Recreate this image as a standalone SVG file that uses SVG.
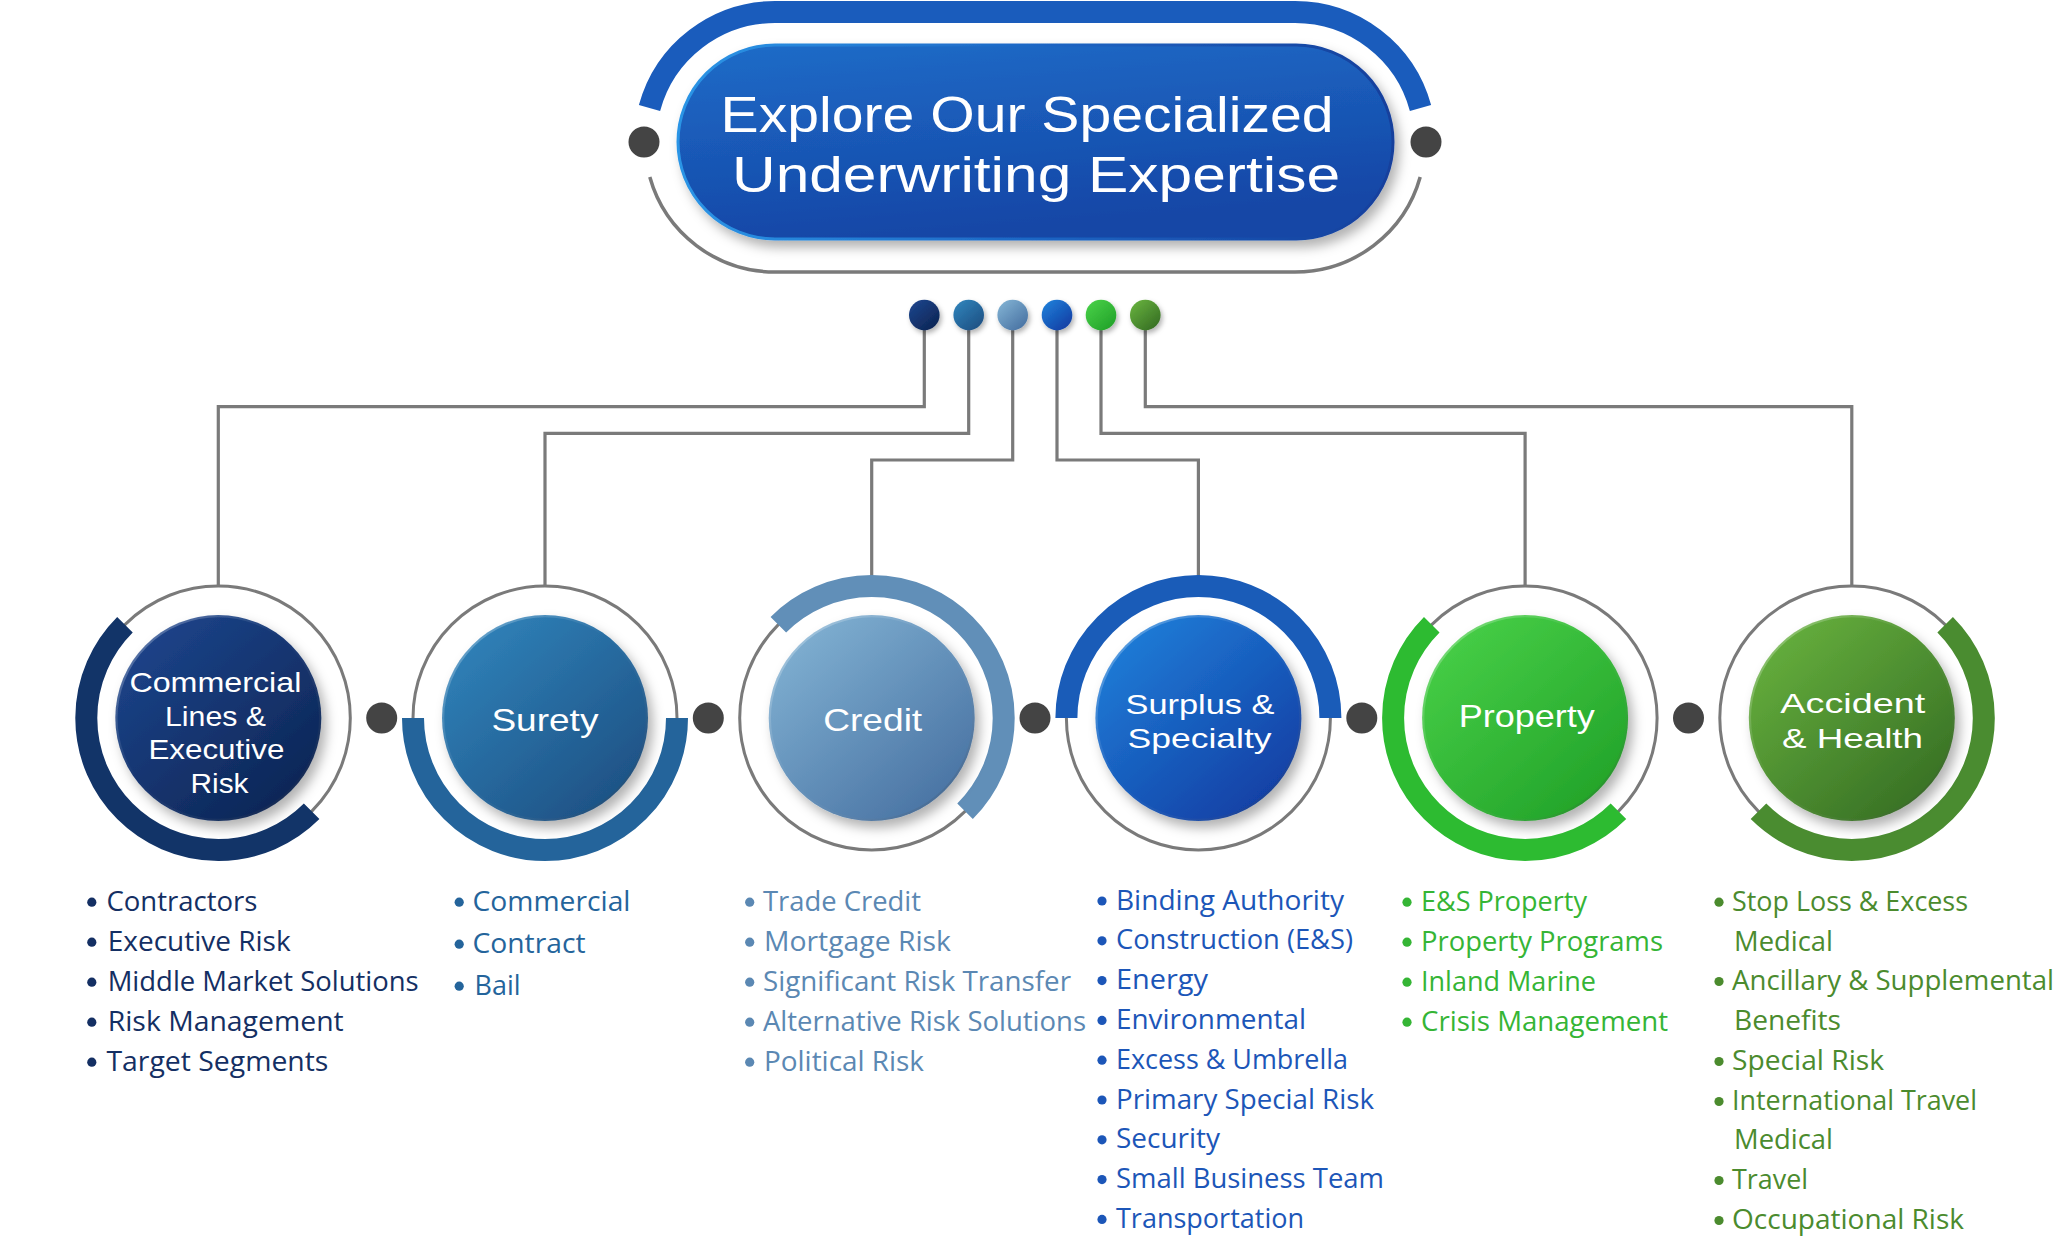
<svg xmlns="http://www.w3.org/2000/svg" width="2070" height="1248" viewBox="0 0 2070 1248">
<defs>
<style>
.lbl{font-family:"Liberation Sans","Open Sans",sans-serif;fill:#fff;font-weight:400}
.li{font-family:"Open Sans","Noto Sans","Liberation Sans",sans-serif;font-size:27px;font-weight:400}
.ring{fill:none;stroke:#7a7a7a;stroke-width:3}
.band{fill:none;stroke-width:22}
.conn{fill:none;stroke:#7a7a7a;stroke-width:3.2}
.sep{fill:#444}
.c1{fill:#142f63}.c2{fill:#24649b}.c3{fill:#5b88b3}.c4{fill:#1c56b8}.c5{fill:#35b535}.c6{fill:#4b8b2e}
</style>
<filter id="sh" x="-30%" y="-30%" width="160%" height="160%"><feDropShadow dx="5" dy="7" stdDeviation="6" flood-color="#000" flood-opacity="0.3"/></filter>
<filter id="shs" x="-50%" y="-50%" width="200%" height="200%"><feDropShadow dx="2" dy="3" stdDeviation="2.5" flood-color="#000" flood-opacity="0.3"/></filter>
<linearGradient id="gH" x1="0" y1="0" x2="0.3" y2="1"><stop offset="0" stop-color="#1e6cc8"/><stop offset="1" stop-color="#1546a6"/></linearGradient>
<linearGradient id="gHs" x1="0" y1="0" x2="1" y2="0"><stop offset="0" stop-color="#2b95e6"/><stop offset="0.5" stop-color="#1d66c4"/><stop offset="1" stop-color="#163f9c"/></linearGradient>
<linearGradient id="g1" x1="0.15" y1="0.1" x2="0.85" y2="0.9"><stop offset="0" stop-color="#1c4389"/><stop offset="1" stop-color="#0d2656"/></linearGradient>
<linearGradient id="g2" x1="0.15" y1="0.1" x2="0.85" y2="0.9"><stop offset="0" stop-color="#2f80b7"/><stop offset="1" stop-color="#1e5285"/></linearGradient>
<linearGradient id="g3" x1="0.15" y1="0.1" x2="0.85" y2="0.9"><stop offset="0" stop-color="#7eaed0"/><stop offset="1" stop-color="#4a74a4"/></linearGradient>
<linearGradient id="g4" x1="0.15" y1="0.1" x2="0.85" y2="0.9"><stop offset="0" stop-color="#1f7bd6"/><stop offset="1" stop-color="#1140a5"/></linearGradient>
<linearGradient id="g5" x1="0.15" y1="0.1" x2="0.85" y2="0.9"><stop offset="0" stop-color="#46cd46"/><stop offset="1" stop-color="#23a42a"/></linearGradient>
<linearGradient id="g6" x1="0.15" y1="0.1" x2="0.85" y2="0.9"><stop offset="0" stop-color="#64ad3c"/><stop offset="1" stop-color="#387125"/></linearGradient>
<linearGradient id="rim" x1="0" y1="0" x2="1" y2="1"><stop offset="0" stop-color="#fff" stop-opacity="0.35"/><stop offset="0.45" stop-color="#fff" stop-opacity="0"/><stop offset="1" stop-color="#000" stop-opacity="0.2"/></linearGradient>
</defs>
<rect width="2070" height="1248" fill="#fff"/>

<g id="header">
<path d="M 649.5 108 A 130 130 0 0 1 775 12 L 1295 12 A 130 130 0 0 1 1420.5 108" fill="none" stroke="#1a5cbc" stroke-width="22"/>
<path d="M 649.8 177 A 130 130 0 0 0 775 272 L 1295 272 A 130 130 0 0 0 1420.2 177" fill="none" stroke="#7a7a7a" stroke-width="3.5"/>
<circle class="sep" cx="644" cy="142" r="15.5"/>
<circle class="sep" cx="1426" cy="142" r="15.5"/>
<rect x="678" y="45" width="715" height="194" rx="97" fill="url(#gH)" stroke="url(#gHs)" stroke-width="3" filter="url(#sh)"/>
<text class="lbl" font-size="50" x="720.6" y="132" textLength="613" lengthAdjust="spacingAndGlyphs">Explore Our Specialized</text>
<text class="lbl" font-size="50" x="732" y="192" textLength="608" lengthAdjust="spacingAndGlyphs">Underwriting Expertise</text>
</g>

<g id="connectors">
<path class="conn" d="M 924.3 315 V 406.7 H 218.3 V 586"/>
<path class="conn" d="M 968.7 315 V 433.3 H 545 V 586"/>
<path class="conn" d="M 1012.7 315 V 460 H 871.7 V 586"/>
<path class="conn" d="M 1057 315 V 460 H 1198.4 V 586"/>
<path class="conn" d="M 1101 315 V 433.3 H 1525.1 V 586"/>
<path class="conn" d="M 1145.3 315 V 406.7 H 1851.8 V 586"/>
</g>

<g id="hub-dots" filter="url(#shs)">
<circle cx="924.3" cy="315" r="15.3" fill="url(#g1)"/>
<circle cx="968.7" cy="315" r="15.3" fill="url(#g2)"/>
<circle cx="1012.7" cy="315" r="15.3" fill="url(#g3)"/>
<circle cx="1057" cy="315" r="15.3" fill="url(#g4)"/>
<circle cx="1101" cy="315" r="15.3" fill="url(#g5)"/>
<circle cx="1145.3" cy="315" r="15.3" fill="url(#g6)"/>
</g>

<g id="separators">
<circle class="sep" cx="381.7" cy="718" r="15.5"/>
<circle class="sep" cx="708.3" cy="718" r="15.5"/>
<circle class="sep" cx="1035" cy="718" r="15.5"/>
<circle class="sep" cx="1361.8" cy="718" r="15.5"/>
<circle class="sep" cx="1688.5" cy="718" r="15.5"/>
</g>

<g id="node-commercial">
<circle class="ring" cx="218.3" cy="718" r="132"/>
<path class="band" stroke="#123468" d="M 311.64 811.34 A 132 132 0 0 1 124.96 811.34 A 132 132 0 0 1 124.96 624.66"/>
<circle cx="218.3" cy="718" r="103" fill="url(#g1)" filter="url(#sh)"/>
<circle cx="218.3" cy="718" r="102" fill="none" stroke="url(#rim)" stroke-width="2.5"/>
<text class="lbl" font-size="28" x="129.4" y="691.7" textLength="172" lengthAdjust="spacingAndGlyphs">Commercial</text>
<text class="lbl" font-size="28" x="165" y="725.5" textLength="101" lengthAdjust="spacingAndGlyphs">Lines &amp;</text>
<text class="lbl" font-size="28" x="148.4" y="759.3" textLength="136" lengthAdjust="spacingAndGlyphs">Executive</text>
<text class="lbl" font-size="28" x="190.5" y="793.1" textLength="58" lengthAdjust="spacingAndGlyphs">Risk</text>
<g class="c1">
<circle cx="91.8" cy="902.2" r="4.6"/><text class="li" x="106.4" y="910.7" textLength="151" lengthAdjust="spacingAndGlyphs">Contractors</text>
<circle cx="91.8" cy="942.2" r="4.6"/><text class="li" x="107.7" y="950.7" textLength="183" lengthAdjust="spacingAndGlyphs">Executive Risk</text>
<circle cx="91.8" cy="982.2" r="4.6"/><text class="li" x="107.7" y="990.7" textLength="311" lengthAdjust="spacingAndGlyphs">Middle Market Solutions</text>
<circle cx="91.8" cy="1022.2" r="4.6"/><text class="li" x="107.7" y="1030.7" textLength="236" lengthAdjust="spacingAndGlyphs">Risk Management</text>
<circle cx="91.8" cy="1062.2" r="4.6"/><text class="li" x="106.4" y="1070.7" textLength="222" lengthAdjust="spacingAndGlyphs">Target Segments</text>
</g>
</g>

<g id="node-surety">
<circle class="ring" cx="545" cy="718" r="132"/>
<path class="band" stroke="#24649b" d="M 677 718 A 132 132 0 0 1 545 850 A 132 132 0 0 1 413 718"/>
<circle cx="545" cy="718" r="103" fill="url(#g2)" filter="url(#sh)"/>
<circle cx="545" cy="718" r="102" fill="none" stroke="url(#rim)" stroke-width="2.5"/>
<text class="lbl" font-size="32" x="491.4" y="730.7" textLength="107" lengthAdjust="spacingAndGlyphs">Surety</text>
<g class="c2">
<circle cx="459.2" cy="902.2" r="4.6"/><text class="li" x="472.5" y="910.7" textLength="158" lengthAdjust="spacingAndGlyphs">Commercial</text>
<circle cx="459.2" cy="944.2" r="4.6"/><text class="li" x="472.5" y="952.7" textLength="113" lengthAdjust="spacingAndGlyphs">Contract</text>
<circle cx="459.2" cy="986.2" r="4.6"/><text class="li" x="474.5" y="994.7" textLength="46" lengthAdjust="spacingAndGlyphs">Bail</text>
</g>
</g>

<g id="node-credit">
<circle class="ring" cx="871.7" cy="718" r="132"/>
<path class="band" stroke="#618fb8" d="M 778.36 624.66 A 132 132 0 0 1 965.04 624.66 A 132 132 0 0 1 965.04 811.34"/>
<circle cx="871.7" cy="718" r="103" fill="url(#g3)" filter="url(#sh)"/>
<circle cx="871.7" cy="718" r="102" fill="none" stroke="url(#rim)" stroke-width="2.5"/>
<text class="lbl" font-size="32" x="823.2" y="730.7" textLength="99" lengthAdjust="spacingAndGlyphs">Credit</text>
<g class="c3">
<circle cx="749.7" cy="902.2" r="4.6"/><text class="li" x="763" y="910.7" textLength="158" lengthAdjust="spacingAndGlyphs">Trade Credit</text>
<circle cx="749.7" cy="942.2" r="4.6"/><text class="li" x="764" y="950.7" textLength="187" lengthAdjust="spacingAndGlyphs">Mortgage Risk</text>
<circle cx="749.7" cy="982.2" r="4.6"/><text class="li" x="763" y="990.7" textLength="308" lengthAdjust="spacingAndGlyphs">Significant Risk Transfer</text>
<circle cx="749.7" cy="1022.2" r="4.6"/><text class="li" x="763" y="1030.7" textLength="323" lengthAdjust="spacingAndGlyphs">Alternative Risk Solutions</text>
<circle cx="749.7" cy="1062.2" r="4.6"/><text class="li" x="764" y="1070.7" textLength="160" lengthAdjust="spacingAndGlyphs">Political Risk</text>
</g>
</g>

<g id="node-surplus">
<circle class="ring" cx="1198.4" cy="718" r="132"/>
<path class="band" stroke="#1a5cb8" d="M 1066.4 718 A 132 132 0 0 1 1198.4 586 A 132 132 0 0 1 1330.4 718"/>
<circle cx="1198.4" cy="718" r="103" fill="url(#g4)" filter="url(#sh)"/>
<circle cx="1198.4" cy="718" r="102" fill="none" stroke="url(#rim)" stroke-width="2.5"/>
<text class="lbl" font-size="28" x="1125.5" y="714" textLength="149" lengthAdjust="spacingAndGlyphs">Surplus &amp;</text>
<text class="lbl" font-size="28" x="1127.6" y="748.3" textLength="144" lengthAdjust="spacingAndGlyphs">Specialty</text>
<g class="c4">
<circle cx="1102" cy="901" r="4.6"/><text class="li" x="1116" y="909.5" textLength="228" lengthAdjust="spacingAndGlyphs">Binding Authority</text>
<circle cx="1102" cy="940.8" r="4.6"/><text class="li" x="1116" y="949.3" textLength="237" lengthAdjust="spacingAndGlyphs">Construction (E&amp;S)</text>
<circle cx="1102" cy="980.6" r="4.6"/><text class="li" x="1116" y="989.1" textLength="92" lengthAdjust="spacingAndGlyphs">Energy</text>
<circle cx="1102" cy="1020.4" r="4.6"/><text class="li" x="1116" y="1028.9" textLength="190" lengthAdjust="spacingAndGlyphs">Environmental</text>
<circle cx="1102" cy="1060.2" r="4.6"/><text class="li" x="1116" y="1068.7" textLength="232" lengthAdjust="spacingAndGlyphs">Excess &amp; Umbrella</text>
<circle cx="1102" cy="1100" r="4.6"/><text class="li" x="1116" y="1108.5" textLength="258" lengthAdjust="spacingAndGlyphs">Primary Special Risk</text>
<circle cx="1102" cy="1139.8" r="4.6"/><text class="li" x="1116" y="1148.3" textLength="104" lengthAdjust="spacingAndGlyphs">Security</text>
<circle cx="1102" cy="1179.6" r="4.6"/><text class="li" x="1116" y="1188.1" textLength="268" lengthAdjust="spacingAndGlyphs">Small Business Team</text>
<circle cx="1102" cy="1219.4" r="4.6"/><text class="li" x="1116" y="1227.9" textLength="188" lengthAdjust="spacingAndGlyphs">Transportation</text>
</g>
</g>

<g id="node-property">
<circle class="ring" cx="1525.1" cy="718" r="132"/>
<path class="band" stroke="#2dbb31" d="M 1618.44 811.34 A 132 132 0 0 1 1431.76 811.34 A 132 132 0 0 1 1431.76 624.66"/>
<circle cx="1525.1" cy="718" r="103" fill="url(#g5)" filter="url(#sh)"/>
<circle cx="1525.1" cy="718" r="102" fill="none" stroke="url(#rim)" stroke-width="2.5"/>
<text class="lbl" font-size="32" x="1458.7" y="726.7" textLength="136" lengthAdjust="spacingAndGlyphs">Property</text>
<g class="c5">
<circle cx="1407" cy="902.2" r="4.6"/><text class="li" x="1421" y="910.7" textLength="166" lengthAdjust="spacingAndGlyphs">E&amp;S Property</text>
<circle cx="1407" cy="942.2" r="4.6"/><text class="li" x="1421" y="950.7" textLength="242" lengthAdjust="spacingAndGlyphs">Property Programs</text>
<circle cx="1407" cy="982.2" r="4.6"/><text class="li" x="1421" y="990.7" textLength="175" lengthAdjust="spacingAndGlyphs">Inland Marine</text>
<circle cx="1407" cy="1022.2" r="4.6"/><text class="li" x="1421" y="1030.7" textLength="247" lengthAdjust="spacingAndGlyphs">Crisis Management</text>
</g>
</g>

<g id="node-accident">
<circle class="ring" cx="1851.8" cy="718" r="132"/>
<path class="band" stroke="#4a8c30" d="M 1945.14 624.66 A 132 132 0 0 1 1945.14 811.34 A 132 132 0 0 1 1758.46 811.34"/>
<circle cx="1851.8" cy="718" r="103" fill="url(#g6)" filter="url(#sh)"/>
<circle cx="1851.8" cy="718" r="102" fill="none" stroke="url(#rim)" stroke-width="2.5"/>
<text class="lbl" font-size="28" x="1780.3" y="713.3" textLength="145" lengthAdjust="spacingAndGlyphs">Accident</text>
<text class="lbl" font-size="28" x="1782" y="747.5" textLength="141" lengthAdjust="spacingAndGlyphs">&amp; Health</text>
<g class="c6">
<circle cx="1719" cy="902.2" r="4.6"/><text class="li" x="1732" y="910.7" textLength="236" lengthAdjust="spacingAndGlyphs">Stop Loss &amp; Excess</text>
<text class="li" x="1734" y="950.7" textLength="99" lengthAdjust="spacingAndGlyphs">Medical</text>
<circle cx="1719" cy="981.5" r="4.6"/><text class="li" x="1732" y="990" textLength="322" lengthAdjust="spacingAndGlyphs">Ancillary &amp; Supplemental</text>
<text class="li" x="1734" y="1030" textLength="107" lengthAdjust="spacingAndGlyphs">Benefits</text>
<circle cx="1719" cy="1061.5" r="4.6"/><text class="li" x="1732" y="1070" textLength="152" lengthAdjust="spacingAndGlyphs">Special Risk</text>
<circle cx="1719" cy="1101.5" r="4.6"/><text class="li" x="1732" y="1110" textLength="245" lengthAdjust="spacingAndGlyphs">International Travel</text>
<text class="li" x="1734" y="1149" textLength="99" lengthAdjust="spacingAndGlyphs">Medical</text>
<circle cx="1719" cy="1180.5" r="4.6"/><text class="li" x="1732" y="1189" textLength="76" lengthAdjust="spacingAndGlyphs">Travel</text>
<circle cx="1719" cy="1220.5" r="4.6"/><text class="li" x="1732" y="1229" textLength="232" lengthAdjust="spacingAndGlyphs">Occupational Risk</text>
</g>
</g>
</svg>
